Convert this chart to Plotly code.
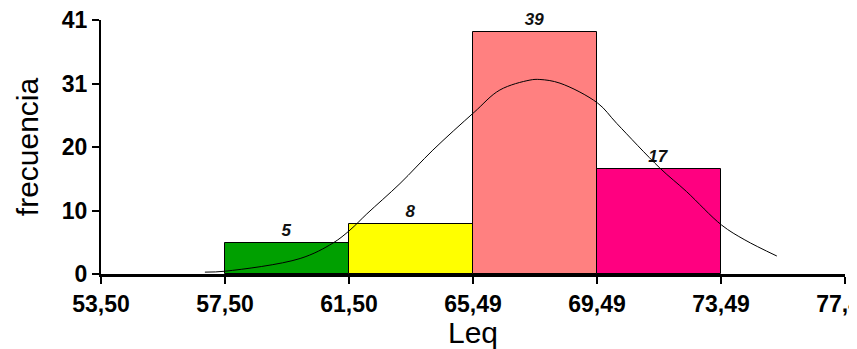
import plotly.graph_objects as go

# Histogram classes (Leq bins) and frequencies
bin_left = [57.50, 61.50, 65.49, 69.49]
bin_width = 3.998
freq = [5, 8, 39, 17]
bar_colors = ["#00A000", "#FFFF00", "#FF8080", "#FF0080"]

# Fitted normal curve
curve_x = [56.85, 57.50, 59.92, 60.98, 61.53, 62.07, 63.14, 64.20, 65.53, 66.36,
           67.33, 67.65, 68.30, 69.51, 70.13, 71.52, 72.38, 73.51, 74.26, 75.29]
curve_y = [0.3, 0.45, 2.5, 5.0, 7.1, 9.7, 14.6, 20.0, 26.1, 29.7,
           31.3, 31.4, 30.8, 27.6, 24.3, 17.1, 13.3, 7.9, 5.5, 2.9]

# Axis ticks
x_tick_vals = [53.5 + i * 3.998 for i in range(7)]
x_tick_text = ["53,50", "57,50", "61,50", "65,49", "69,49", "73,49", "77,49"]
y_tick_vals = [0, 10.25, 20.5, 30.75, 41]
y_tick_text = ["0", "10", "20", "31", "41"]

centers = [b + bin_width / 2 for b in bin_left]

fig = go.Figure()
fig.add_trace(go.Bar(
    x=centers, y=freq, width=bin_width,
    marker=dict(color=bar_colors, line=dict(color="black", width=1)),
    text=[str(v) for v in freq], textposition="outside",
    textfont=dict(family="Liberation Sans", size=17, color="#111111",
                  style="italic", weight="bold"),
    cliponaxis=False,
    hoverinfo="skip",
))
fig.add_trace(go.Scatter(
    x=curve_x, y=curve_y, mode="lines",
    line=dict(color="black", width=1, shape="spline"),
    hoverinfo="skip",
))

# page body has an 8px margin, so the figure is sized to fit the window
fig.update_layout(
    template="none",
    width=849, height=341,
    margin=dict(l=93, r=12, t=12, b=75),
    paper_bgcolor="white", plot_bgcolor="white",
    showlegend=False,
    bargap=0,
)
fig.update_xaxes(
    automargin=False,
    range=[53.5, 53.5 + 6 * 3.998],
    tickvals=x_tick_vals, ticktext=x_tick_text,
    ticklabeloverflow="allow",
    tickfont=dict(family="Liberation Sans", size=23, color="black", weight="bold"),
    ticks="outside", ticklen=7, tickwidth=2, tickcolor="black",
    showline=True, linecolor="black", linewidth=3,
    showgrid=False, zeroline=False,
    title=dict(text="Leq", font=dict(family="Liberation Sans", size=30, color="black"),
               standoff=4),
)
fig.update_yaxes(
    automargin=False,
    range=[0, 41],
    tickvals=y_tick_vals, ticktext=y_tick_text,
    ticklabeloverflow="allow",
    tickfont=dict(family="Liberation Sans", size=23, color="black", weight="bold"),
    ticks="outside", ticklen=7, tickwidth=2, tickcolor="black",
    showline=True, linecolor="black", linewidth=2,
    showgrid=False, zeroline=False,
    title=dict(text="frecuencia", font=dict(family="Liberation Sans", size=30, color="black"),
               standoff=14),
)

fig.write_html("out.html")
